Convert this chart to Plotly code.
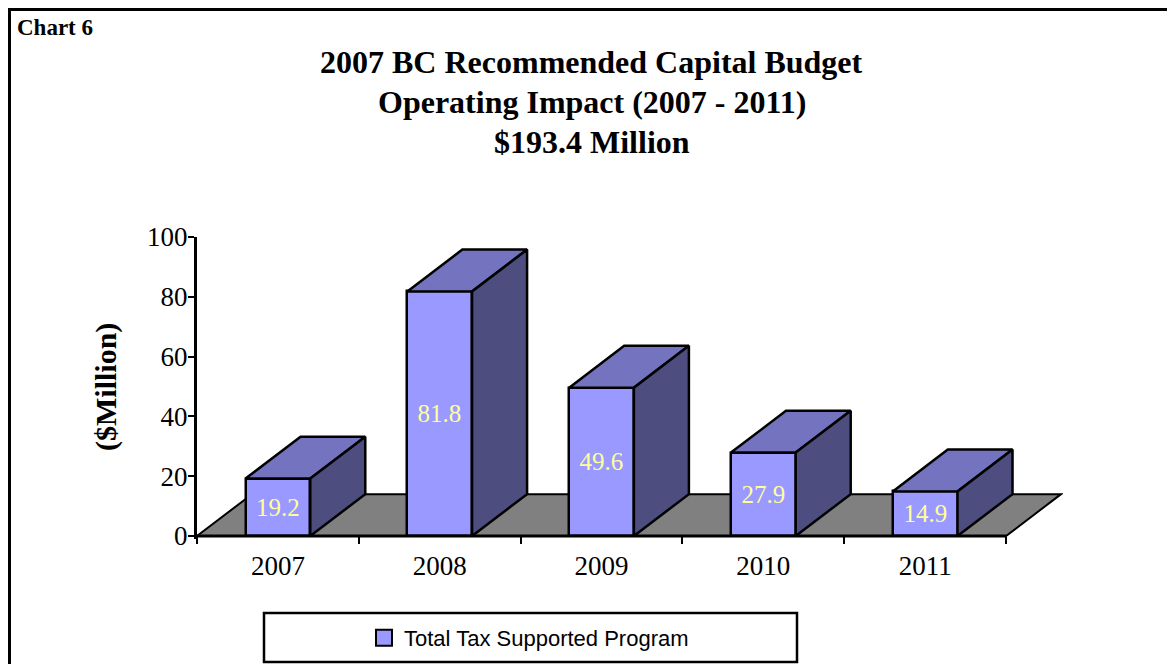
import plotly.graph_objects as go

# ---- data -------------------------------------------------------------
years = ["2007", "2008", "2009", "2010", "2011"]
values = [19.2, 81.8, 49.6, 27.9, 14.9]          # $ million, total 193.4
y_ticks = [0, 20, 40, 60, 80, 100]
series_name = "Total Tax Supported Program"
title_lines = ["2007 BC Recommended Capital Budget",
               "Operating Impact (2007 - 2011)",
               "$193.4 Million"]

# ---- styling ----------------------------------------------------------
FRONT = "#9999FF"
TOP = "#7373BF"
SIDE = "#4D4D80"
FLOOR = "#808080"
LABEL = "#FFFF99"
SERIF = "Liberation Serif, Times New Roman, serif"
SANS = "Liberation Sans Narrow, Arial Narrow, Liberation Sans, Arial, sans-serif"

BAR_W = 0.4     # front face width in category units
DX = 0.34       # depth offset along x (category units)
DY = 14.0       # depth offset along y (value units)

W, H = 1167, 664
ML, MR, MT, MB = 197, 104, 237, 125
X_RANGE = [-0.5, 4.852]
Y_RANGE = [-1, 100]
PLOT_W = W - ML - MR
PLOT_H = H - MT - MB


def px(x):
    """page pixel x -> paper fraction"""
    return (x - ML) / PLOT_W


def py(y):
    """page pixel y -> paper fraction"""
    return (H - MB - y) / PLOT_H


idx = list(range(len(years)))
n = len(years)

# top and side faces of the 3-D columns
top_x, top_y, side_x, side_y = [], [], [], []
for i, v in zip(idx, values):
    l, r = i - BAR_W / 2, i + BAR_W / 2
    top_x += [l, r, r + DX, l + DX, l, None]
    top_y += [v, v, v + DY, v + DY, v, None]
    side_x += [r, r + DX, r + DX, r, r, None]
    side_y += [0, DY, v + DY, v, 0, None]

fig = go.Figure()

fig.add_trace(go.Bar(
    x=idx, y=values, width=BAR_W,
    marker=dict(color=FRONT, line=dict(color="black", width=2.5)),
    text=[f"{v:.1f}" for v in values],
    textposition="inside", insidetextanchor="middle", constraintext="none",
    textfont=dict(family=SERIF, size=25, color=LABEL),
    showlegend=False, hoverinfo="x+y",
))
fig.add_trace(go.Scatter(
    x=top_x, y=top_y, mode="lines", fill="toself", fillcolor=TOP,
    line=dict(color="black", width=2.5), showlegend=False, hoverinfo="skip",
))
fig.add_trace(go.Scatter(
    x=side_x, y=side_y, mode="lines", fill="toself", fillcolor=SIDE,
    line=dict(color="black", width=2.5), showlegend=False, hoverinfo="skip",
))
# legend entry for the series
fig.add_trace(go.Scatter(
    x=[None], y=[None], mode="markers", name=series_name,
    marker=dict(symbol="square", size=16, color=FRONT,
                line=dict(color="black", width=2)),
))

x0, x1 = -0.5, n - 0.5
shapes = [
    # floor of the 3-D plot
    dict(type="path", xref="x", yref="y", layer="below",
         path=f"M {x0},0 L {x1},0 L {x1 + DX},{DY} L {x0 + DX},{DY} Z",
         fillcolor=FLOOR, line=dict(color="black", width=2)),
    # category axis line
    dict(type="line", xref="x", yref="y", x0=x0, x1=x1, y0=0, y1=0,
         line=dict(color="black", width=3)),
    # legend box
    dict(type="rect", xref="paper", yref="paper",
         x0=px(264), x1=px(797), y0=py(662), y1=py(613),
         line=dict(color="black", width=2.5)),
    # outer frame
    dict(type="rect", xref="paper", yref="paper",
         x0=px(9.5), x1=px(1200), y0=py(700), y1=py(9.5),
         line=dict(color="black", width=3)),
]

annotations = [
    dict(xref="paper", yref="paper", x=px(591.5), y=py(yc),
         xanchor="center", yanchor="middle", showarrow=False,
         text=f"<b>{line}</b>",
         font=dict(family=SERIF, size=32, color="black"))
    for line, yc in zip(title_lines, [62, 102, 142])
]
annotations += [
    dict(xref="paper", yref="paper", x=px(15), y=py(27),
         xanchor="left", yanchor="middle", showarrow=False,
         text="<b>Chart 6</b>", font=dict(family=SERIF, size=23, color="black")),
    dict(xref="paper", yref="paper", x=px(106), y=py(387),
         xanchor="center", yanchor="middle", showarrow=False, textangle=-90,
         text="<b>($Million)</b>", font=dict(family=SERIF, size=30, color="black")),
]

fig.update_layout(
    width=W, height=H, autosize=False,
    margin=dict(l=ML, r=MR, t=MT, b=MB, pad=0, autoexpand=False),
    paper_bgcolor="white", plot_bgcolor="white",
    shapes=shapes, annotations=annotations,
    bargap=0,
    legend=dict(x=px(364), y=py(638), xanchor="left", yanchor="middle",
                bgcolor="rgba(0,0,0,0)", borderwidth=0,
                font=dict(family=SANS, size=22, color="black")),
    xaxis=dict(
        range=X_RANGE, tickmode="array", tickvals=idx, ticktext=years,
        ticks="outside", ticklen=6, tickcolor="rgba(0,0,0,0)",
        minor=dict(tickmode="array", tickvals=[i - 0.5 for i in range(n + 1)],
                   ticks="outside", ticklen=7, tickwidth=2, tickcolor="black"),
        showline=False, showgrid=False, zeroline=False,
        anchor="free", position=(0 - Y_RANGE[0]) / (Y_RANGE[1] - Y_RANGE[0]),
        tickfont=dict(family=SERIF, size=27, color="black"),
        fixedrange=True,
    ),
    yaxis=dict(
        range=Y_RANGE, tickmode="array", tickvals=y_ticks,
        ticks="outside", ticklen=6, tickwidth=2, tickcolor="black",
        ticklabelstandoff=-5,
        showline=True, linewidth=3, linecolor="black",
        showgrid=False, zeroline=False,
        tickfont=dict(family=SERIF, size=27, color="black"),
        fixedrange=True,
    ),
)

fig.write_html("out.html")
